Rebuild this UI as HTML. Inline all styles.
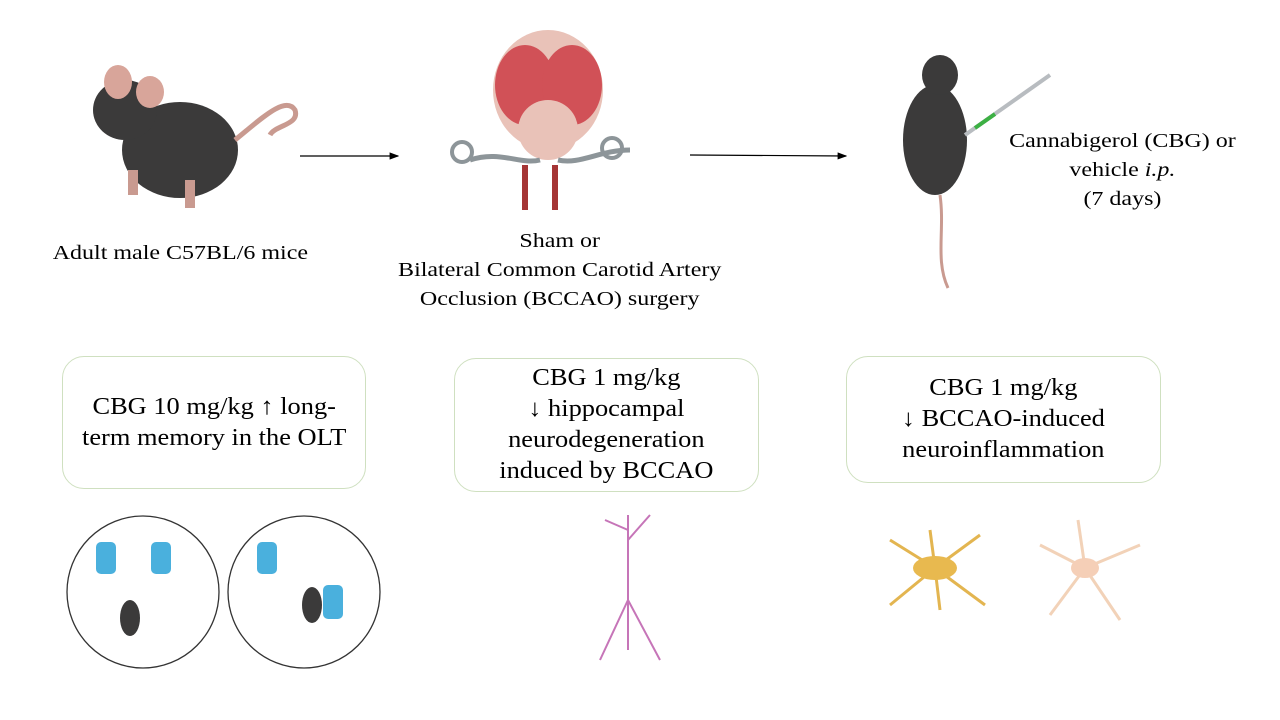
<!DOCTYPE html>
<html><head><meta charset="utf-8"><style>
html,body{margin:0;padding:0;background:#fff;}
body{width:1280px;height:720px;position:relative;overflow:hidden;font-family:"Liberation Serif",serif;color:#000;}
.t{position:absolute;font-size:20px;line-height:29px;text-align:center;white-space:nowrap;}
.t span{display:inline-block;transform:scaleX(1.2);}
.box span{display:inline-block;transform:scaleX(1.1);}
.box{position:absolute;border:1px solid #cfe0c0;border-radius:22px;box-sizing:border-box;display:flex;align-items:center;justify-content:center;text-align:center;font-size:24px;line-height:31px;white-space:nowrap;}
svg{position:absolute;left:0;top:0;}
</style></head><body>
<svg width="1280" height="720" viewBox="0 0 1280 720">
<defs><marker id="a" markerWidth="8" markerHeight="8" refX="7" refY="4" orient="auto"><path d="M0,1 L8,4 L0,7 z" fill="#000"/></marker></defs>
<line x1="300" y1="156" x2="398" y2="156" stroke="#000" stroke-width="1.2" marker-end="url(#a)"/>
<line x1="690" y1="155" x2="846" y2="156" stroke="#000" stroke-width="1.2" marker-end="url(#a)"/>
<ellipse cx="180" cy="150" rx="58" ry="48" fill="#3b3a3a"/>
<ellipse cx="125" cy="110" rx="32" ry="30" fill="#3b3a3a"/>
<ellipse cx="118" cy="82" rx="14" ry="17" fill="#d8a59a"/>
<ellipse cx="150" cy="92" rx="14" ry="16" fill="#d8a59a"/>
<path d="M235,140 C260,120 285,95 295,110 C300,125 275,125 270,135" stroke="#c99a90" stroke-width="5" fill="none"/>
<rect x="128" y="170" width="10" height="25" fill="#c99a90"/><rect x="185" y="180" width="10" height="28" fill="#c99a90"/>
<ellipse cx="548" cy="90" rx="55" ry="60" fill="#e9c2b8"/>
<ellipse cx="525" cy="85" rx="30" ry="40" fill="#d15157"/>
<ellipse cx="572" cy="85" rx="30" ry="40" fill="#d15157"/>
<ellipse cx="548" cy="130" rx="30" ry="30" fill="#e9c2b8"/>
<path d="M470,160 C500,150 520,165 540,160 M630,150 C600,150 580,165 558,160" stroke="#8d9599" stroke-width="5" fill="none"/>
<circle cx="462" cy="152" r="10" fill="none" stroke="#8d9599" stroke-width="4"/><circle cx="612" cy="148" r="10" fill="none" stroke="#8d9599" stroke-width="4"/>
<path d="M525,210 L525,165 M555,210 L555,165" stroke="#a53535" stroke-width="6"/>
<ellipse cx="935" cy="140" rx="32" ry="55" fill="#3b3a3a"/>
<ellipse cx="940" cy="75" rx="18" ry="20" fill="#3b3a3a"/>
<path d="M940,195 C945,230 935,260 948,288" stroke="#c99a90" stroke-width="3" fill="none"/>
<path d="M965,135 L1050,75" stroke="#b8bcc0" stroke-width="4"/><path d="M975,128 L995,114" stroke="#3cb043" stroke-width="4"/>
<ellipse cx="143" cy="592" rx="76" ry="76" fill="none" stroke="#333" stroke-width="1.3"/>
<ellipse cx="304" cy="592" rx="76" ry="76" fill="none" stroke="#333" stroke-width="1.3"/>
<rect x="96" y="542" width="20" height="32" rx="5" fill="#4ab0dd"/><rect x="151" y="542" width="20" height="32" rx="5" fill="#4ab0dd"/>
<rect x="257" y="542" width="20" height="32" rx="5" fill="#4ab0dd"/><rect x="323" y="585" width="20" height="34" rx="5" fill="#4ab0dd"/>
<ellipse cx="130" cy="618" rx="10" ry="18" fill="#3b3a3a"/><ellipse cx="312" cy="605" rx="10" ry="18" fill="#3b3a3a"/>
<path d="M628,515 L628,650 M628,600 L600,660 M628,600 L660,660 M628,530 L605,520 M628,540 L650,515" stroke="#c675b8" stroke-width="2" fill="none"/>
<g stroke="#e3b550" stroke-width="3" fill="none"><path d="M935,568 L890,540 M935,568 L980,535 M935,568 L890,605 M935,568 L985,605 M935,568 L930,530 M935,568 L940,610"/></g>
<ellipse cx="935" cy="568" rx="22" ry="12" fill="#e8b94f"/>
<g stroke="#f2d2b8" stroke-width="3" fill="none"><path d="M1085,568 L1040,545 M1085,568 L1140,545 M1085,568 L1050,615 M1085,568 L1120,620 M1085,568 L1078,520"/></g>
<ellipse cx="1085" cy="568" rx="14" ry="10" fill="#f5cfb7"/>
</svg>
<div class="t" style="left:50px;top:239px;width:260px;"><span>Adult male C57BL/6 mice</span></div>
<div class="t" style="left:380px;top:227px;width:360px;"><span>Sham or<br>Bilateral Common Carotid Artery<br>Occlusion (BCCAO) surgery</span></div>
<div class="t" style="left:1000px;top:127px;width:245px;"><span>Cannabigerol (CBG) or<br>vehicle <i>i.p.</i><br>(7 days)</span></div>
<div class="box" style="left:62px;top:356px;width:304px;height:133px;"><span>CBG 10 mg/kg ↑ long-<br>term memory in the OLT</span></div>
<div class="box" style="left:454px;top:358px;width:305px;height:134px;"><span>CBG 1 mg/kg<br>↓ hippocampal<br>neurodegeneration<br>induced by BCCAO</span></div>
<div class="box" style="left:846px;top:356px;width:315px;height:127px;"><span>CBG 1 mg/kg<br>↓ BCCAO-induced<br>neuroinflammation</span></div>
</body></html>
